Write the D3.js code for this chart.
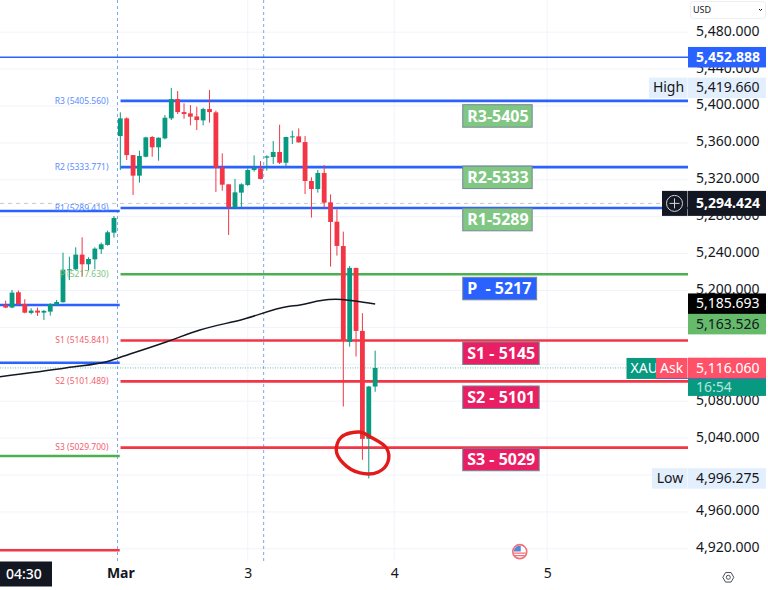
<!DOCTYPE html>
<html>
<head>
<meta charset="utf-8">
<script src="https://cdn.jsdelivr.net/npm/d3@7"></script>
<style>
html, body { margin: 0; padding: 0; background: #fff; }
svg { display: block; font-family: "Noto Sans", sans-serif; }
</style>
</head>
<body>
<div id="chart"></div>
<script>
var opens = [5184.3,5181.5,5198.1,5185.4,5175.7,5178.2,5176,5177.1,5184.3,5187.3,5222.6,5223,5238.9,5228.4,5233.8,5244.7,5249.4,5262.7,
  5367.4,5386.6,5346.8,5324.5,5345,5366.4,5355.2,5364.9,5386.6,5407.5,5393.4,5392,5388.7,5384.4,5396.7,5393.1,5333.5,5315.1,5289.8,5306.1,5314.4,5330.6,5332.4,5344,5344.7,5350.1,5338.5,5366.4,5367.1,5360.9,5318.7,5310,5327.4,5295.6,5274.6,
  5248.2,5144.2,5224.5,5156.2,5039.2,5095.9];
var highs = [5189,5200.6,5199.9,5190.5,5180.8,5181.5,5178.9,5186.2,5189.8,5241,5236.7,5246.8,5257.7,5236,5246.8,5251.9,5264.9,5280.8,
  5393.1,5387.7,5346.8,5351.5,5366.7,5367.4,5366,5390.2,5419.66,5416.2,5402.8,5401,5399.2,5398.1,5417.3,5394.9,5348.7,5315.1,5320.9,5316.2,5332.4,5346.5,5340.3,5346.5,5362,5379.7,5366.7,5373.2,5375.7,5367.4,5322.7,5330.6,5336,5304.2,5288,
  5263.8,5226.6,5224.5,5175.4,5096.6,5134.8];
var lows = [5180.8,5180.8,5184.3,5175.3,5174.2,5172.4,5168.1,5172.8,5184,5186.9,5211.4,5222.3,5215.1,5221.6,5223,5239.6,5248.6,5257.3,
  5330.6,5341.4,5303.5,5316.9,5344.3,5345,5340.7,5363.8,5384.8,5391.3,5386.2,5379,5373.9,5379,5381.9,5306.8,5308.2,5260.2,5288,5290.2,5313.2,5328.8,5320.5,5329.9,5337.1,5337.1,5333.5,5358.8,5360.2,5304.6,5279,5306.1,5290.2,5225.9,5237.8,
  5074.2,5139.2,5128.4,5016.5,4996.275,5090.2];
var closes = [5181.5,5197.7,5185.1,5176,5178.2,5176,5177.9,5185.4,5187.6,5222.6,5223,5238.9,5228.4,5234.2,5245.4,5250.1,5263.1,5278.6,
  5386.6,5346.8,5324.5,5345.8,5366,5355.2,5365.6,5387.3,5407.5,5393.4,5391.3,5388.4,5384.8,5396.7,5393.4,5333.1,5314.7,5290.2,5306.4,5315.1,5330.6,5332.8,5320.9,5345.4,5350.1,5338.5,5366.4,5367.1,5360.6,5318.7,5310,5327.4,5295.2,5274.3,5248.3,
  5146.5,5224.5,5156.2,5039.2,5095.9,5116.06];

var maIndex = [-0.9,9.6,16.4,18,25.3,30.5,37.3,44.1,46.2,49.3,51.8,54.8,58];
var maPrice = [5106.6,5116.3,5123.9,5127.6,5144.5,5157.2,5168.8,5182.4,5184.3,5188.9,5190.5,5188.6,5185.4];

var pivotNames = ["R3","R2","R1","P","S1","S2","S3"];
var pivotLevels = [5405.56,5333.771,5289.419,5217.63,5145.841,5101.489,5029.7];
var noteTexts = ["R3-5405","R2-5333","R1-5289","P  - 5217","S1 - 5145","S2 - 5101","S3 - 5029"];
var noteTops = [5401.4,5334.9,5289.1,5214.3,5144.2,5096.5,5029];
var noteWidths = [10.9,10.9,10.9,11.6,12,12,12];

var prevNames = ["R1","R2","R3","P","S1"];
var prevLevels = [5286.2,5184.3,5121.7,5020.6,4918.4];

var priceTicks = [5480,5440,5400,5360,5320,5280,5240,5200,5160,5120,5080,5040,5000,4960,4920];
var priceLabels = [5480,5440,5400,5360,5320,5280,5240,5200,5080,5040,4960,4920];
var dayIndex = [18,38,61,85];
var dayLabels = ["Mar","3","4","5"];
var sessionIndex = [17.55,40.5];

var circleIndex = [55.6,52.7,51.9,53,55.6,58.5,60,59.8,57.2];
var circlePrice = [5046.6,5041.2,5026.8,5012.7,5002.2,5003.3,5014.1,5029,5041.5];

var lastPrice = 5116.06, crossPrice = 5294.424, topLevel = 5452.888;
var highPrice = 5419.66, lowPrice = 4996.275, maPriceNow = 5185.693, greenPrice = 5163.526;

var width = 768, height = 590, paneW = 688, paneB = 561;

var x = d3.scaleLinear().domain([0, 107]).range([5.67, 687.3]);
var y = d3.scaleLinear().domain([5400, 4920]).range([106, 548.8]);
var fmt = d3.format(",.3f");

var svg = d3.select("#chart").append("svg").attr("width", width).attr("height", height);
svg.append("rect").attr("width", width).attr("height", height).attr("fill", "#fff");

svg.append("clipPath").attr("id", "pane").append("rect").attr("width", paneW).attr("height", paneB);
var pane = svg.append("g").attr("clip-path", "url(#pane)");

// grid
pane.selectAll(".hgrid").data(priceTicks).enter().append("line")
  .attr("x1", 0).attr("x2", paneW).attr("y1", d => y(d)).attr("y2", d => y(d))
  .attr("stroke", "#f0f3fa");
pane.selectAll(".vgrid").data(dayIndex.slice(1)).enter().append("line")
  .attr("x1", d => x(d)).attr("x2", d => x(d)).attr("y1", 0).attr("y2", paneB)
  .attr("stroke", "#f0f3fa");

// session breaks
pane.selectAll(".session").data(sessionIndex).enter().append("line")
  .attr("x1", d => x(d)).attr("x2", d => x(d)).attr("y1", 0).attr("y2", paneB)
  .attr("stroke", "#7ea6ec").attr("stroke-width", 1).attr("stroke-dasharray", "3,3");

// crosshair and last price lines
pane.append("line").attr("x1", 0).attr("x2", paneW).attr("y1", y(crossPrice)).attr("y2", y(crossPrice))
  .attr("stroke", "#c4c7cc").attr("stroke-dasharray", "4,4");
pane.append("line").attr("x1", 0).attr("x2", 628).attr("y1", y(lastPrice)).attr("y2", y(lastPrice))
  .attr("stroke", "#089981").attr("stroke-opacity", 0.6).attr("stroke-dasharray", "1,1.5");

// levels
var levelColor = d3.scaleOrdinal().domain(["R3","R2","R1","P","S1","S2","S3"])
  .range(["#2962ff","#2962ff","#2962ff","#4caf50","#f23645","#f23645","#f23645"]);

pane.append("line").attr("x1", 0).attr("x2", paneW).attr("y1", y(topLevel)).attr("y2", y(topLevel))
  .attr("stroke", "#2962ff").attr("stroke-width", 1.5);

pivotLevels.forEach(function(level, i) {
  pane.append("line").attr("x1", x(18) + 0.2).attr("x2", paneW)
    .attr("y1", y(level)).attr("y2", y(level))
    .attr("stroke", levelColor(pivotNames[i])).attr("stroke-width", 2.6);
});
prevLevels.forEach(function(level, i) {
  pane.append("line").attr("x1", 0).attr("x2", x(18) - 0.6)
    .attr("y1", y(level)).attr("y2", y(level))
    .attr("stroke", levelColor(prevNames[i])).attr("stroke-width", 2.6);
});

// candles
var candleColor = i => closes[i] >= opens[i] ? "#089981" : "#f23645";
var candles = pane.selectAll(".candle").data(opens).enter().append("g");
candles.append("line")
  .attr("x1", (d, i) => x(i)).attr("x2", (d, i) => x(i))
  .attr("y1", (d, i) => y(highs[i])).attr("y2", (d, i) => y(lows[i]))
  .attr("stroke", (d, i) => candleColor(i)).attr("stroke-width", 1);
candles.append("rect")
  .attr("x", (d, i) => x(i) - 2.4).attr("width", 4.8)
  .attr("y", (d, i) => y(Math.max(opens[i], closes[i])))
  .attr("height", (d, i) => Math.max(1, Math.abs(y(opens[i]) - y(closes[i]))))
  .attr("fill", (d, i) => candleColor(i));

// moving average
var maLine = d3.line().x(d => x(d[0])).y(d => y(d[1])).curve(d3.curveMonotoneX);
pane.append("path").datum(d3.zip(maIndex, maPrice)).attr("d", maLine)
  .attr("fill", "none").attr("stroke", "#131722").attr("stroke-width", 1.5);

// small level labels
var smallColor = d3.scaleOrdinal().domain(pivotNames)
  .range(["#5b8cff","#5b8cff","#5b8cff","#7cc47f","#f4606f","#f4606f","#f4606f"]);
pane.selectAll(".small").data(pivotLevels).enter().append("text")
  .attr("x", 108.5).attr("y", d => y(d))
  .attr("dy", "0.32em").attr("text-anchor", "end")
  .attr("font-size", 8.5)
  .attr("fill", (d, i) => smallColor(pivotNames[i]))
  .text((d, i) => pivotNames[i] + " (" + d3.format(".3f")(d) + ")");

// note boxes
var noteFill = d3.scaleOrdinal().domain(pivotNames)
  .range(["#81c784","#81c784","#81c784","#2962ff","#e91e63","#e91e63","#e91e63"]);
var notes = pane.selectAll(".note").data(noteTexts).enter().append("g");
notes.append("rect")
  .attr("x", x(71.75)).attr("y", (d, i) => y(noteTops[i]))
  .attr("width", (d, i) => noteWidths[i] * 6.37).attr("height", 22.5)
  .attr("fill", (d, i) => noteFill(pivotNames[i]))
  .attr("stroke", "#758696").attr("stroke-width", 1);
notes.append("text")
  .attr("x", x(71.75) + 4.5).attr("y", (d, i) => y(noteTops[i]) + 11.5)
  .attr("dy", "0.35em").attr("font-size", 16).attr("font-weight", 700)
  .attr("fill", "#fff").attr("xml:space", "preserve").style("white-space", "pre")
  .text(d => d);

// hand drawn circle
var circleLine = d3.line().x(d => x(d[0])).y(d => y(d[1])).curve(d3.curveCatmullRomClosed);
pane.append("path").datum(d3.zip(circleIndex, circlePrice)).attr("d", circleLine)
  .attr("fill", "none").attr("stroke", "#e21a1a").attr("stroke-width", 3.4);

// flag marker
var flag = pane.append("g").attr("transform", "translate(" + x(80.7) + "," + y(4916.9) + ")");
flag.append("circle").attr("r", 7).attr("fill", "#fff").attr("stroke", "#f2707a").attr("stroke-width", 1.6);
flag.append("path").attr("d", "M-6,1.5H6M-5,4H5").attr("stroke", "#f2707a").attr("stroke-width", 1.3);
flag.append("path").attr("d", "M-6,-0.2A6,6 0 0 1 1,-5.9V-0.2Z").attr("fill", "#5b86d8");

// price axis
var yAxis = d3.axisRight(y).tickValues(priceLabels).tickFormat(fmt).tickSize(0).tickPadding(8);
var gy = svg.append("g").attr("transform", "translate(" + paneW + ",0)").call(yAxis);
gy.select(".domain").remove();
gy.selectAll("text").attr("y", -1.5).attr("font-size", 14)
  .attr("font-family", '"Noto Sans", sans-serif').attr("fill", "#131722");

// time axis
var xAxis = d3.axisBottom(x).tickValues(dayIndex).tickFormat((d, i) => dayLabels[i]).tickSize(0).tickPadding(7);
var gx = svg.append("g").attr("transform", "translate(0," + paneB + ")").call(xAxis);
gx.select(".domain").remove();
gx.selectAll("text").attr("font-size", 14).attr("font-family", '"Noto Sans", sans-serif')
  .attr("fill", "#131722").attr("font-weight", d => d === 18 ? 700 : 400);

// time cursor box
svg.append("rect").attr("x", 0).attr("y", 561.5).attr("width", 52).attr("height", 25).attr("fill", "#131722");
svg.append("text").attr("x", 6).attr("y", 574).attr("dy", "0.35em").attr("font-size", 14)
  .attr("font-weight", 500).attr("fill", "#fff").text("04:30");

// price tags
function priceTag(price, fill, color, weight, h) {
  var hh = h || 20.5;
  svg.append("rect").attr("x", paneW).attr("y", y(price) - hh / 2).attr("width", 78).attr("height", hh).attr("fill", fill);
  svg.append("text").attr("x", 696).attr("y", y(price)).attr("dy", "0.33em")
    .attr("font-size", 14).attr("font-weight", weight).attr("fill", color).text(fmt(price));
}
function sideTag(price, label, left, fill, color) {
  svg.append("rect").attr("x", left).attr("y", y(price) - 10.25).attr("width", paneW - left - 0.5).attr("height", 20.5).attr("fill", fill);
  svg.append("text").attr("x", (left + paneW) / 2).attr("y", y(price)).attr("dy", "0.33em")
    .attr("text-anchor", "middle").attr("font-size", 14).attr("fill", color).text(label);
}

priceTag(topLevel, "#2962ff", "#fff", 700);
priceTag(highPrice, "#e3effd", "#131722", 400);
sideTag(highPrice, "High", 649, "#e3effd", "#131722");
priceTag(crossPrice, "#131722", "#fff", 700, 25);
priceTag(maPriceNow, "#000", "#fff", 400);
priceTag(greenPrice, "#66bb6a", "#131722", 400);
priceTag(lowPrice, "#e3effd", "#131722", 400);
sideTag(lowPrice, "Low", 652, "#e3effd", "#131722");

// crosshair plus button
svg.append("rect").attr("x", 662).attr("y", y(crossPrice) - 12.5).attr("width", 25.5).attr("height", 25).attr("fill", "#131722");
svg.append("circle").attr("cx", 674.5).attr("cy", y(crossPrice)).attr("r", 8).attr("fill", "none").attr("stroke", "#d1d4dc");
svg.append("path").attr("d", "M674.5," + (y(crossPrice) - 5) + "v10M669.5," + y(crossPrice) + "h10").attr("stroke", "#d1d4dc");

// last price tags
svg.append("rect").attr("x", 688).attr("y", y(lastPrice) + 10).attr("width", 78).attr("height", 18).attr("fill", "#089981");
svg.append("text").attr("x", 696).attr("y", y(lastPrice) + 19).attr("dy", "0.33em").attr("font-size", 14).attr("fill", "#b5e5da").text("16:54");
priceTag(lastPrice, "#ff5268", "#fff", 400);
svg.append("rect").attr("x", 626.5).attr("y", y(lastPrice) - 10).attr("width", 30).attr("height", 21).attr("fill", "#089981");
svg.append("text").attr("x", 630.5).attr("y", y(lastPrice)).attr("dy", "0.33em").attr("font-size", 14).attr("fill", "#fff").text("XAU");
svg.append("rect").attr("x", 656).attr("y", y(lastPrice) - 10).attr("width", 31.5).attr("height", 21).attr("fill", "#ff5268");
svg.append("text").attr("x", 660).attr("y", y(lastPrice)).attr("dy", "0.33em").attr("font-size", 14).attr("fill", "#fff").text("Ask");
svg.append("line").attr("x1", 656).attr("x2", 766).attr("y1", y(lastPrice) + 10.5).attr("y2", y(lastPrice) + 10.5).attr("stroke", "#7a5bb0");

// currency selector
svg.append("rect").attr("x", 690.5).attr("y", 1.5).attr("width", 75).attr("height", 17).attr("rx", 3)
  .attr("fill", "#fff").attr("stroke", "#eceef2");
svg.append("text").attr("x", 693).attr("y", 10).attr("dy", "0.35em").attr("font-size", 9).attr("fill", "#131722").text("USD");
svg.append("path").attr("d", "M759,9l1.5,1.5l1.5,-1.5").attr("fill", "none").attr("stroke", "#131722");

// settings icon
var gear = svg.append("g").attr("transform", "translate(728.3,577.3)");
gear.append("path")
  .attr("d", d3.line()(d3.range(6).map(k => [5.5 * Math.cos(k * Math.PI / 3), 5.5 * Math.sin(k * Math.PI / 3)])) + "Z")
  .attr("fill", "none").attr("stroke", "#4a4f5c");
gear.append("circle").attr("r", 2).attr("fill", "none").attr("stroke", "#4a4f5c");
</script>
</body>
</html>
